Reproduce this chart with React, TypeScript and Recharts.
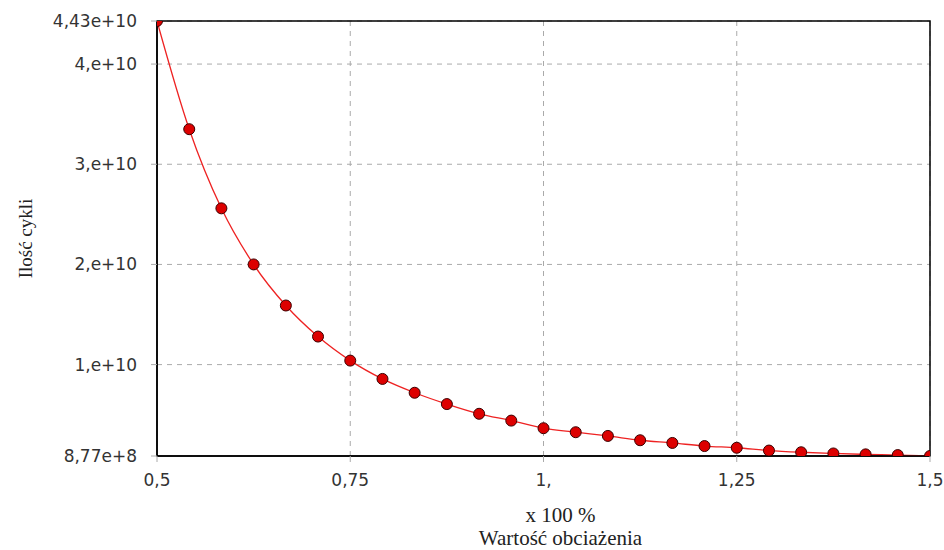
import React from "react";
import {
  LineChart,
  Line,
  XAxis,
  YAxis,
  CartesianGrid,
  ReferenceArea,
} from "recharts";

// load values (x 100 %)
const loads = [
  0.5, 0.5417, 0.5833, 0.625, 0.6667, 0.7083, 0.75, 0.7917, 0.8333, 0.875,
  0.9167, 0.9583, 1.0, 1.0417, 1.0833, 1.125, 1.1667, 1.2083, 1.25, 1.2917,
  1.3333, 1.375, 1.4167, 1.4583, 1.5,
];

// number of cycles
const cycles = [
  4.43e10, 3.35e10, 2.56e10, 2.0e10, 1.59e10, 1.28e10, 1.04e10, 0.857e10,
  0.719e10, 0.606e10, 0.509e10, 0.441e10, 0.365e10, 0.325e10, 0.288e10,
  0.245e10, 0.218e10, 0.187e10, 0.17e10, 0.142e10, 0.125e10, 0.113e10,
  0.104e10, 0.097e10, 0.0877e10,
];

const xTicks = [0.5, 0.75, 1, 1.25, 1.5];
const xTickLabels = ["0,5", "0,75", "1,", "1,25", "1,5"];

const yTicks = [8.77e8, 1e10, 2e10, 3e10, 4e10, 4.43e10];
const yTickLabels = ["8,77e+8", "1,e+10", "2,e+10", "3,e+10", "4,e+10", "4,43e+10"];

const data = loads.map((x, i) => ({ x, y: cycles[i] }));

const sans = "'DejaVu Sans', Verdana, sans-serif";
const serif = "'Liberation Serif', 'Times New Roman', serif";
const tickSize = 17;

function XTick(props: any) {
  const { x, y, payload } = props;
  const label = xTickLabels[xTicks.indexOf(payload.value)] ?? String(payload.value);
  return (
    <text x={x} y={y + 20} textAnchor="middle" style={{ fontFamily: sans, fontSize: tickSize }} fill="#333">
      {label}
    </text>
  );
}

function YTick(props: any) {
  const { x, y, payload } = props;
  const label = yTickLabels[yTicks.indexOf(payload.value)] ?? String(payload.value);
  return (
    <text
      x={x}
      y={y}
      textAnchor="end"
      dominantBaseline="central"
      style={{ fontFamily: sans, fontSize: tickSize }}
      fill="#333"
    >
      {label}
    </text>
  );
}

function XTitle(props: any) {
  const vb = props.viewBox || {};
  const cx = vb.x + vb.width / 2 + 17;
  return (
    <g>
      <text x={cx} y={522} textAnchor="middle" style={{ fontFamily: serif, fontSize: 21 }} fill="#222">
        x 100 %
      </text>
      <text x={cx} y={545} textAnchor="middle" style={{ fontFamily: serif, fontSize: 21 }} fill="#222">
        Wartość obciażenia
      </text>
    </g>
  );
}

function YTitle(props: any) {
  const vb = props.viewBox || {};
  const cx = 25;
  const cy = vb.y + vb.height / 2;
  return (
    <text
      x={cx}
      y={cy}
      transform={`rotate(-90 ${cx} ${cy})`}
      textAnchor="middle"
      dominantBaseline="central"
      style={{ fontFamily: serif, fontSize: 19 }}
      fill="#222"
    >
      Ilość cykli
    </text>
  );
}

export default function App() {
  return (
    <div style={{ position: "absolute", left: 0, top: 0, background: "#fff" }}>
      <LineChart
        width={944}
        height={550}
        data={data}
        margin={{ top: 21, right: 14, left: 0, bottom: 0 }}
      >
        <CartesianGrid stroke="#aaa" strokeDasharray="5 5" />
        <XAxis
          dataKey="x"
          type="number"
          domain={[0.5, 1.5]}
          ticks={xTicks}
          height={94}
          tickSize={6}
          tickMargin={4}
          tickLine={{ stroke: "#aaa" }}
          axisLine={{ stroke: "#000", strokeWidth: 1.5 }}
          tick={<XTick />}
          interval={0}
          allowDataOverflow
          label={<XTitle />}
        />
        <YAxis
          dataKey="y"
          type="number"
          domain={[8.77e8, 4.43e10]}
          ticks={yTicks}
          width={157}
          tickSize={6}
          tickMargin={14}
          tickLine={{ stroke: "#aaa" }}
          axisLine={{ stroke: "#000", strokeWidth: 1.5 }}
          tick={<YTick />}
          interval={0}
          allowDataOverflow
          label={<YTitle />}
        />
        <ReferenceArea
          x1={0.5}
          x2={1.5}
          y1={8.77e8}
          y2={4.43e10}
          fill="none"
          stroke="#000"
          strokeWidth={1.5}
          ifOverflow="visible"
        />
        <Line
          type="monotone"
          dataKey="y"
          stroke="#ee2222"
          strokeWidth={1.3}
          isAnimationActive={false}
          dot={{ r: 5.5, fill: "#dd0000", stroke: "#3a0000", strokeWidth: 1 }}
          activeDot={false}
        />
      </LineChart>
    </div>
  );
}
